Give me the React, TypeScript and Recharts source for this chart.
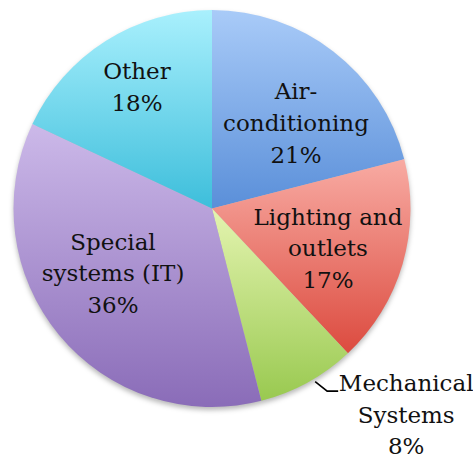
import React from 'react';
import { PieChart, Pie, Cell } from 'recharts';

const categories = ['Air-conditioning', 'Lighting and outlets', 'Mechanical Systems', 'Special systems (IT)', 'Other'];
const shares = [21, 17, 8, 36, 18];

const wrappedNames: Record<string, string[]> = {
  'Air-conditioning': ['Air-', 'conditioning'],
  'Lighting and outlets': ['Lighting and', 'outlets'],
  'Mechanical Systems': ['Mechanical', 'Systems'],
  'Special systems (IT)': ['Special', 'systems (IT)'],
  Other: ['Other'],
};

const gradients: [string, string][] = [
  ['#a9cbf8', '#5a8fd9'],
  ['#f8aba3', '#dc4b3f'],
  ['#e4f4b0', '#99c950'],
  ['#ccb9e9', '#8a6cb8'],
  ['#a9f0fd', '#3dbedb'],
];

const labelLayout: Record<string, { k: number; dx: number; dy: number; outside?: boolean }> = {
  'Air-conditioning': { k: 0.6, dx: 11, dy: 8.3 },
  'Lighting and outlets': { k: 0.6, dx: 1.6, dy: 6 },
  'Mechanical Systems': { k: 1, dx: 0, dy: 0, outside: true },
  'Special systems (IT)': { k: 0.6, dx: -7.2, dy: -11.7 },
  Other: { k: 0.6, dx: -11.2, dy: -21.1 },
};

const data = categories.map((name, i) => ({ name, value: shares[i] }));

const RAD = Math.PI / 180;
const FONT = 'DejaVu Serif';
const FS = 23;
const LH = 31.6;
const CAP_HALF = 8.4;
const textStyle = { fontFamily: FONT, fontSize: FS };

function renderLabel(props: any) {
  const { cx, cy, midAngle, outerRadius, name, value, index } = props;
  const lines = [...wrappedNames[name], `${value}%`];
  const cfg = labelLayout[name];
  if (cfg.outside) {
    const a = (midAngle + 2) * RAD;
    const sx = cx + (outerRadius + 3) * Math.cos(-a);
    const sy = cy + (outerRadius + 3) * Math.sin(-a);
    const ex = sx + 12;
    const ey = sy + 9.5;
    const fx = ex + 11;
    const tx = fx + 68;
    return (
      <g key={`lbl-${index}`}>
        <polyline points={`${sx},${sy} ${ex},${ey} ${fx},${ey}`} fill="none" stroke="#000" strokeWidth={1.6} />
        <text x={tx} y={ey} textAnchor="middle" fontFamily={FONT} style={textStyle} fill="#111">
          {lines.map((l, i) => (
            <tspan key={i} x={tx} y={ey + i * LH} fontFamily={FONT}>{l}</tspan>
          ))}
        </text>
      </g>
    );
  }
  const r = outerRadius * cfg.k;
  const x = cx + r * Math.cos(-midAngle * RAD) + cfg.dx;
  const y = cy + r * Math.sin(-midAngle * RAD) + cfg.dy;
  const n = lines.length;
  return (
    <text key={`lbl-${index}`} x={x} y={y} textAnchor="middle" fontFamily={FONT} style={textStyle} fill="#111">
      {lines.map((l, i) => (
        <tspan key={i} x={x} y={y + (i - (n - 1) / 2) * LH + CAP_HALF} fontFamily={FONT}>{l}</tspan>
      ))}
    </text>
  );
}

export default function App() {
  return (
    <div style={{ position: 'absolute', left: 0, top: 0, width: 473, height: 459, background: '#fff' }}>
      <style>{`.recharts-pie-sectors, .recharts-pie g:has(> .recharts-pie-sector){filter:drop-shadow(0px 3px 2.5px rgba(0,0,0,0.28));}`}</style>
      <PieChart width={473} height={459} margin={{ top: 0, right: 0, bottom: 0, left: 0 }}>
        <defs>
          {gradients.map(([top, bottom], i) => (
            <linearGradient key={i} id={`grad${i}`} x1="0" y1="0" x2="0" y2="1">
              <stop offset="0%" stopColor={top} />
              <stop offset="100%" stopColor={bottom} />
            </linearGradient>
          ))}
        </defs>
        <Pie
          data={data}
          dataKey="value"
          nameKey="name"
          cx={212}
          cy={208.5}
          outerRadius={198.5}
          startAngle={90}
          endAngle={-270}
          stroke="none"
          label={renderLabel}
          labelLine={false}
          isAnimationActive={false}
        >
          {data.map((d, i) => (
            <Cell key={d.name} fill={`url(#grad${i})`} />
          ))}
        </Pie>
      </PieChart>
    </div>
  );
}
